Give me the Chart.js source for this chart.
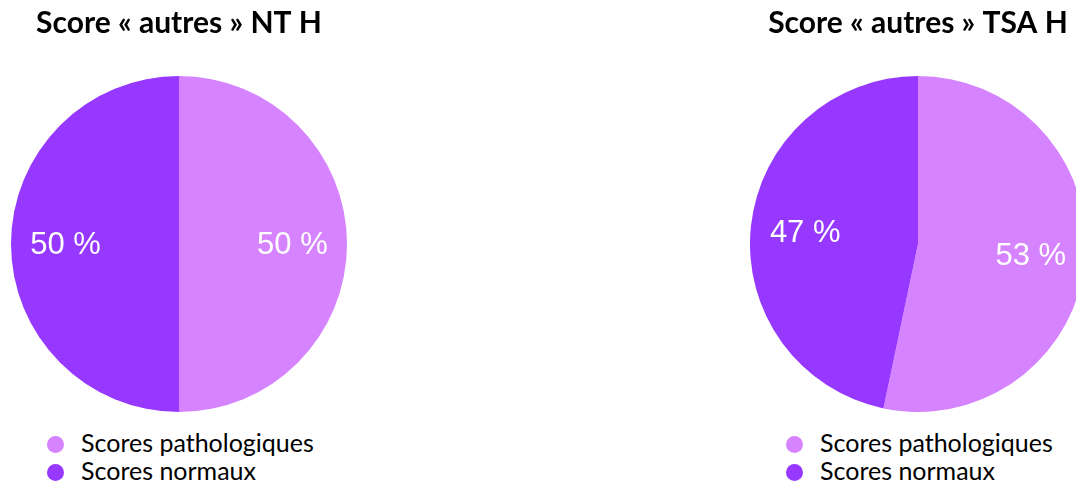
<!DOCTYPE html>
<html>
<head>
<meta charset="utf-8">
<script src="https://cdn.jsdelivr.net/npm/chart.js@4.4.1/dist/chart.umd.min.js"></script>
<style>
    body { margin: 0; width: 1076px; height: 486px; overflow: hidden; background: #fff; position: relative; }
    .pie-box { position: absolute; top: 0; width: 360px; height: 486px; }
    .pie-box canvas { display: block; }
    .legend { position: absolute; top: 428px; left: 48px; font-family: Lato, "Open Sans", sans-serif; font-size: 25px; color: #000; }
    .legend div { height: 28px; line-height: 28px; white-space: nowrap; }
    .legend span { display: inline-block; width: 17px; height: 17px; border-radius: 50%; margin-right: 17px; vertical-align: -1px; }
</style>
</head>
<body>
<div class="pie-box" id="box-nt" style="left:-1px"><canvas id="pie-nt"></canvas><div class="legend" id="legend-nt"></div></div>
<div class="pie-box" id="box-tsa" style="left:738px"><canvas id="pie-tsa"></canvas><div class="legend" id="legend-tsa"></div></div>
<script>
// categories shared by both pies
var categories = ["Scores pathologiques", "Scores normaux"];
var colors = ["#D683FF", "#9638FF"];
// percentages (slice angles), labels show them rounded
var values_nt = [50, 50];
var values_tsa = [53.3, 46.7];
var title_nt = "Score « autres » NT H";
var title_tsa = "Score « autres » TSA H";

// white percent labels inside each slice
const pctLabels = {
    id: 'pctLabels',
    afterDatasetsDraw(chart) {
        const ctx = chart.ctx;
        const meta = chart.getDatasetMeta(0);
        ctx.save();
        ctx.fillStyle = '#fff';
        ctx.font = '31px "Liberation Sans", Arial, sans-serif';
        ctx.textAlign = 'center';
        ctx.textBaseline = 'middle';
        meta.data.forEach(function (arc, i) {
            var p = arc.getProps(['x', 'y', 'startAngle', 'endAngle', 'outerRadius'], true);
            var mid = (p.startAngle + p.endAngle) / 2;
            var r = p.outerRadius * 0.675;
            var txt = Math.round(chart.data.datasets[0].data[i]) + ' %';
            ctx.fillText(txt, p.x + Math.cos(mid) * r, p.y + Math.sin(mid) * r + 1);
        });
        ctx.restore();
    }
};

function makePie(canvasId, legendId, values, title) {
    var canvas = document.getElementById(canvasId);
    canvas.width = 360;
    canvas.height = 412;
    canvas.style.width = '360px';
    canvas.style.height = '412px';
    new Chart(canvas.getContext('2d'), {
        type: 'pie',
        data: {
            labels: categories,
            datasets: [{
                data: values,
                backgroundColor: colors,
                borderWidth: 0
            }]
        },
        options: {
            responsive: false,
            animation: false,
            plugins: {
                legend: { display: false },
                tooltip: { enabled: false },
                title: {
                    display: true,
                    text: title,
                    color: '#000',
                    font: { family: 'Lato, "Open Sans", sans-serif', size: 30, weight: 'bold', lineHeight: 1.2 },
                    padding: { top: 5, bottom: 35 }
                }
            }
        },
        plugins: [pctLabels]
    });
    var legend = document.getElementById(legendId);
    for (var i = 0; i < categories.length; i++) {
        var row = document.createElement('div');
        row.innerHTML = '<span style="background:' + colors[i] + '"></span>' + categories[i];
        legend.appendChild(row);
    }
}

makePie('pie-nt', 'legend-nt', values_nt, title_nt);
makePie('pie-tsa', 'legend-tsa', values_tsa, title_tsa);
</script>
</body>
</html>
